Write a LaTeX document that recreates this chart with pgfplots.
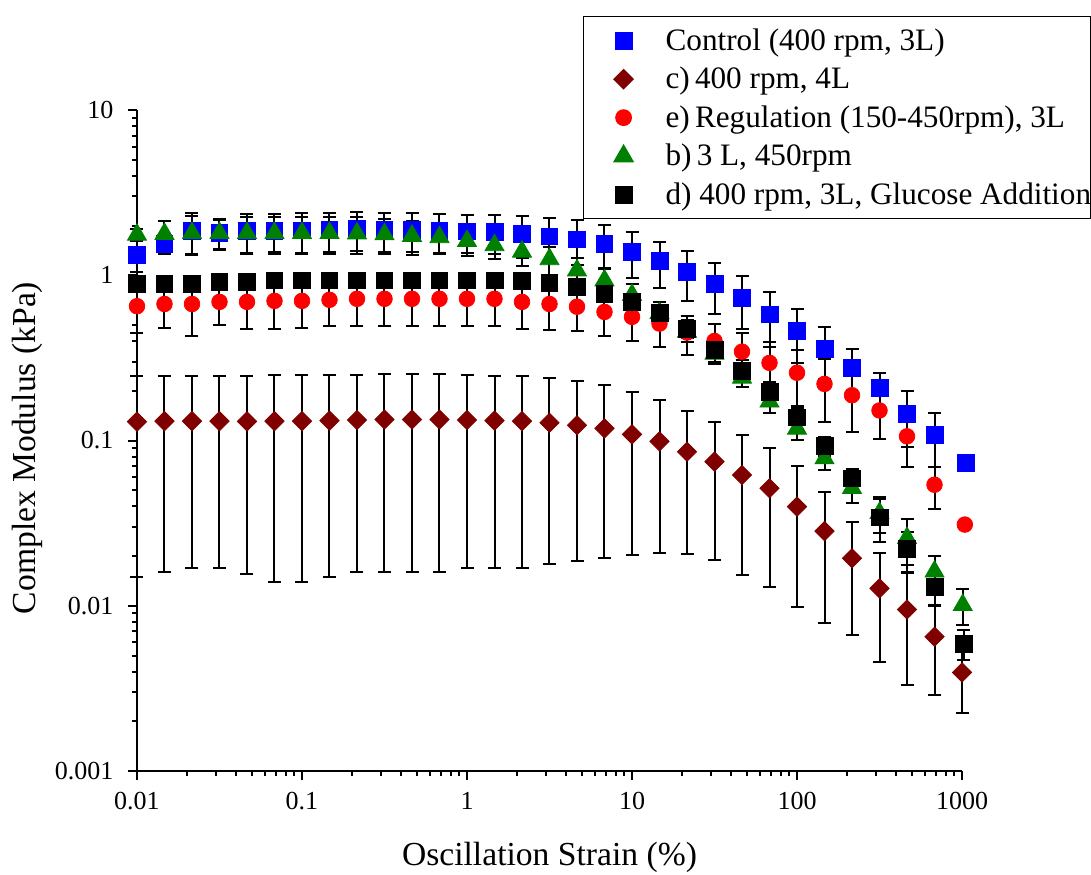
\documentclass[border=0pt]{standalone}
\usepackage{pgfplots}
\pgfplotsset{compat=1.18}
\usepackage{pgfplotstable}
\usepackage{fontspec}
\setmainfont{Liberation Serif}
\definecolor{cblue}{RGB}{0,0,255}
\definecolor{cmaroon}{RGB}{128,0,0}
\definecolor{cred}{RGB}{255,0,0}
\definecolor{cgreen}{RGB}{0,128,0}

\pgfplotstableread{
x y e
0.01 1.33 0.29
0.014678 1.55 0.21
0.021544 1.86 0.51
0.031623 1.80 0.36
0.046416 1.86 0.50
0.068129 1.86 0.48
0.1 1.87 0.50
0.14678 1.88 0.50
0.21544 1.90 0.50
0.31623 1.89 0.50
0.46416 1.88 0.50
0.68129 1.86 0.50
1 1.84 0.48
1.4678 1.83 0.48
2.1544 1.78 0.50
3.1623 1.72 0.51
4.6416 1.65 0.50
6.8129 1.55 0.46
10 1.39 0.43
14.678 1.22 0.38
21.544 1.05 0.35
31.623 0.885 0.30
46.416 0.73 0.26
68.129 0.58 0.21
100 0.46 0.165
146.78 0.36 0.125
215.44 0.276 0.08
316.23 0.207 0.05
464.16 0.145 0.054
681.29 0.108 0.039
1060 0.073 0
}\control

\pgfplotstableread{
x y e
0.01 0.130 0.115
0.014678 0.131 0.115
0.021544 0.131 0.114
0.031623 0.131 0.114
0.046416 0.1305 0.115
0.068129 0.131 0.117
0.1 0.131 0.117
0.14678 0.132 0.117
0.21544 0.133 0.117
0.31623 0.134 0.118
0.46416 0.134 0.118
0.68129 0.134 0.118
1 0.133 0.116
1.4678 0.132 0.115
2.1544 0.131 0.114
3.1623 0.128 0.110
4.6416 0.1236 0.105
6.8129 0.1185 0.099
10 0.109 0.0886
14.678 0.0988 0.0778
21.544 0.0855 0.065
31.623 0.0745 0.0555
46.416 0.0618 0.0465
68.129 0.0514 0.0385
100 0.0398 0.030
146.78 0.0283 0.0204
215.44 0.0194 0.0127
316.23 0.01275 0.0082
464.16 0.0095 0.0062
681.29 0.0065 0.0036
1000 0.00395 0.0017
}\seriesc

\pgfplotstableread{
x y e
0.01 0.65 0.20
0.014678 0.67 0.19
0.021544 0.67 0.24
0.031623 0.69 0.19
0.046416 0.69 0.22
0.068129 0.70 0.225
0.1 0.70 0.22
0.14678 0.71 0.22
0.21544 0.72 0.23
0.31623 0.72 0.23
0.46416 0.72 0.23
0.68129 0.72 0.23
1 0.72 0.23
1.4678 0.72 0.23
2.1544 0.69 0.215
3.1623 0.67 0.205
4.6416 0.645 0.185
6.8129 0.60 0.17
10 0.56 0.16
14.678 0.51 0.14
21.544 0.45 0.12
31.623 0.40 0.11
46.416 0.345 0.10
68.129 0.295 0.10
100 0.257 0.095
146.78 0.22 0.09
215.44 0.188 0.075
316.23 0.152 0.05
464.16 0.106 0.037
681.29 0.054 0.0155
1040 0.031 0
}\seriese

\pgfplotstableread{
x y e
0.01 1.76 0.15
0.014678 1.78 0.35
0.021544 1.80 0.47
0.031623 1.80 0.38
0.046416 1.80 0.45
0.068129 1.80 0.45
0.1 1.80 0.45
0.14678 1.80 0.45
0.21544 1.79 0.45
0.31623 1.77 0.42
0.46416 1.73 0.40
0.68129 1.70 0.35
1 1.61 0.30
1.4678 1.52 0.26
2.1544 1.39 0.25
3.1623 1.25 0.24
4.6416 1.07 0.21
6.8129 0.93 0.17
10 0.76 0.13
14.678 0.59 0.10
21.544 0.455 0.06
31.623 0.335 0.045
46.416 0.24 0.03
68.129 0.172 0.025
100 0.118 0.017
146.78 0.078 0.012
215.44 0.0516 0.01
316.23 0.0364 0.009
464.16 0.0257 0.008
681.29 0.0161 0.004
1010 0.0101 0.0025
}\seriesb

\pgfplotstableread{
x y e
0.01 0.885 0.04
0.014678 0.89 0.04
0.021544 0.89 0.04
0.031623 0.91 0.04
0.046416 0.91 0.04
0.068129 0.93 0.04
0.1 0.93 0.04
0.14678 0.93 0.04
0.21544 0.93 0.04
0.31623 0.93 0.04
0.46416 0.93 0.04
0.68129 0.93 0.04
1 0.93 0.04
1.4678 0.93 0.04
2.1544 0.92 0.05
3.1623 0.90 0.05
4.6416 0.85 0.06
6.8129 0.775 0.06
10 0.69 0.06
14.678 0.59 0.06
21.544 0.475 0.06
31.623 0.354 0.055
46.416 0.265 0.04
68.129 0.196 0.03
100 0.138 0.02
146.78 0.093 0.012
215.44 0.059 0.008
316.23 0.0343 0.01
464.16 0.022 0.006
681.29 0.013 0.003
1025 0.0059 0.0012
}\seriesd

\begin{document}
\begin{tikzpicture}
\useasboundingbox (0,0) rectangle (545.5pt,437pt);
\begin{axis}[
  at={(68.5pt,51.5pt)}, anchor=south west,
  scale only axis, width=412.5pt, height=330.5pt,
  xmode=log, ymode=log,
  xmin=0.01, xmax=1000, ymin=0.001, ymax=10,
  axis lines*=left,
  axis line style={line width=1.25pt, -},
  tick pos=left,
  tick align=outside,
  major tick length=4.75pt, minor tick length=2.5pt,
  every tick/.style={black, line width=1pt},
  xtick={0.01,0.1,1,10,100,1000},
  xticklabels={0.01,0.1,1,10,100,1000},
  minor xtick={0.02,0.03,0.04,0.05,0.06,0.07,0.08,0.09,0.2,0.3,0.4,0.5,0.6,0.7,0.8,0.9,2,3,4,5,6,7,8,9,20,30,40,50,60,70,80,90,200,300,400,500,600,700,800,900},
  ytick={0.001,0.01,0.1,1,10},
  yticklabels={0.001,0.01,0.1,1,10},
  minor ytick={0.002,0.003,0.004,0.005,0.006,0.007,0.008,0.009,0.02,0.03,0.04,0.05,0.06,0.07,0.08,0.09,0.2,0.3,0.4,0.5,0.6,0.7,0.8,0.9,2,3,4,5,6,7,8,9},
  tick label style={font=\fontsize{13}{15}\selectfont},
  xticklabel style={yshift=-2.5pt},
  yticklabel style={xshift=-3.5pt},
  xlabel={Oscillation Strain (\%)},
  ylabel={Complex Modulus (kPa)},
  xlabel style={at={(axis description cs:0.5,-0.130)}, anchor=center, font=\fontsize{16.8}{20}\selectfont},
  ylabel style={at={(axis description cs:-0.1333,0.4887)}, anchor=center, font=\fontsize{16.8}{20}\selectfont},
  clip=false,
  legend style={at={(axis description cs:0.5406,1.1422)}, anchor=north west,
    draw=black, line width=0.6pt, fill=white,
    inner xsep=0pt, inner ysep=2.4pt, row sep=0pt, column sep=0pt,
    font=\fontsize{15.6}{18}\selectfont,
    nodes={inner sep=0pt, text height=14.5pt, text depth=4.75pt}},
  legend cell align=left,
  legend image code/.code={\path[draw=none,fill=none] (0pt,0pt) -- (41pt,0pt); \draw[#1] plot coordinates {(20pt,0pt)};},
  error bars/error bar style={black, line width=1pt, solid},
  error bars/error mark options={black, line width=1pt, mark size=3.25pt, rotate=90, solid},
]
\addplot[only marks, color=cblue, mark=square*, mark size=4.2pt, mark options={fill=cblue, draw=cblue},
  error bars/.cd, y dir=both, y explicit]
  table[x=x, y=y, y error=e]{\control};
\addlegendentry{Control (400 rpm, 3L)}
\addplot[only marks, color=cmaroon, mark=square*, mark size=3.4pt, mark options={fill=cmaroon, draw=cmaroon, rotate=45},
  error bars/.cd, y dir=both, y explicit]
  table[x=x, y=y, y error=e]{\seriesc};
\addlegendentry{c)\,400 rpm, 4L}
\addplot[only marks, color=cred, mark=*, mark size=3.9pt, mark options={fill=cred, draw=cred},
  error bars/.cd, y dir=both, y explicit]
  table[x=x, y=y, y error=e]{\seriese};
\addlegendentry{e)\,Regulation (150-450rpm), 3L}
\addplot[only marks, color=cgreen, mark=triangle*, mark size=5.5pt, mark options={fill=cgreen, draw=cgreen},
  error bars/.cd, y dir=both, y explicit]
  table[x=x, y=y, y error=e]{\seriesb};
\addlegendentry{b)\,3 L, 450rpm}
\addplot[only marks, color=black, mark=square*, mark size=4.2pt, mark options={fill=black, draw=black},
  error bars/.cd, y dir=both, y explicit]
  table[x=x, y=y, y error=e]{\seriesd};
\addlegendentry{d) 400 rpm, 3L, Glucose Addition}
\end{axis}
\end{tikzpicture}
\end{document}
